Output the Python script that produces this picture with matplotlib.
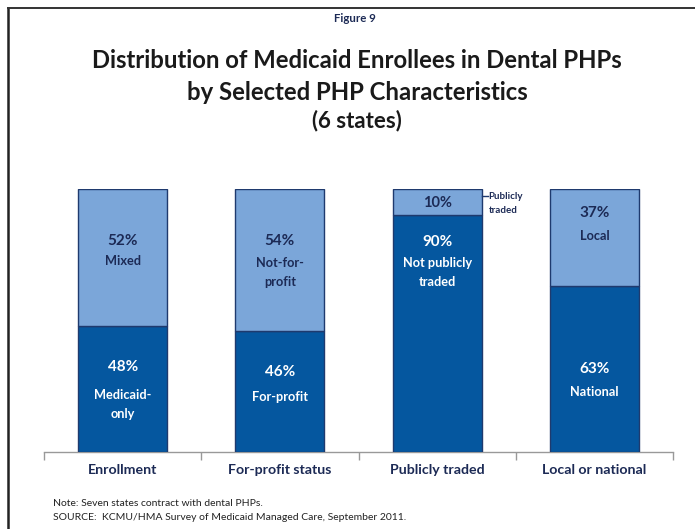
import matplotlib
matplotlib.use("Agg")
import matplotlib.pyplot as plt
from matplotlib.lines import Line2D

plt.rcParams['font.family'] = ['Lato', 'DejaVu Sans']

categories = ["Enrollment", "For-profit status", "Publicly traded", "Local or national"]
bottom_vals = [48, 46, 90, 63]
top_vals = [52, 54, 10, 37]
bottom_labels = ["Medicaid-\nonly", "For-profit", "Not publicly\ntraded", "National"]
top_labels = ["Mixed", "Not-for-\nprofit", "", "Local"]

dark = "#05579F"
light = "#7BA6D9"
edge = "#1F3A6E"
navy = "#1C2A55"

fig = plt.figure(figsize=(6.95, 5.29), dpi=100)
W, H = 695, 529

# frame (left and top edges only)
fig.add_artist(Line2D([8 / W, 8 / W], [0, 1 - 8 / H], transform=fig.transFigure, color="#222222", lw=1.8))
fig.add_artist(Line2D([8 / W, 1], [1 - 8 / H, 1 - 8 / H], transform=fig.transFigure, color="#333333", lw=1.4))

ax = fig.add_axes([44 / W, 1 - 452 / H, (673 - 44) / W, (452 - 189) / H])
x = list(range(len(categories)))
bw = 0.565
ax.bar(x, bottom_vals, width=bw, color=dark, edgecolor=edge, linewidth=1.0, zorder=3)
ax.bar(x, top_vals, width=bw, bottom=bottom_vals, color=light, edgecolor=edge, linewidth=1.0, zorder=3)
ax.set_xlim(-0.5, len(categories) - 0.5)
ax.set_ylim(0, 100)
for s in ["top", "right", "left"]:
    ax.spines[s].set_visible(False)
ax.spines["bottom"].set_color("#999999")
ax.spines["bottom"].set_linewidth(1.0)
ax.set_yticks([])
ax.set_xticks([i - 0.5 for i in range(len(categories) + 1)])
ax.set_xticklabels([])
ax.tick_params(axis="x", length=6, color="#999999", direction="out", width=1)
for i, c in enumerate(categories):
    ax.text(i, -(470 - 452) * 100 / 263, c, ha="center", va="center", fontsize=10.2,
            fontweight="bold", color=navy)

px = 100 / (452 - 189)  # data units per pixel

def ypix(p):
    return (452 - p) * px

# label layout (pixel rows of percent text and first label line)
bottom_pct_rows = [367, 372, 242, 369]
bottom_lbl_rows = [395, 397, 263, 392]
top_pct_rows = [241, 241, 203, 213]
top_lbl_rows = [261, 263, None, 236]

for i in range(len(categories)):
    ax.text(i, ypix(bottom_pct_rows[i]), f"{bottom_vals[i]}%", ha="center", va="center", fontsize=11,
            fontweight="bold", color="white", zorder=5)
    lines = bottom_labels[i].split("\n")
    for k, ln in enumerate(lines):
        ax.text(i, ypix(bottom_lbl_rows[i] + 18.5 * k), ln, ha="center", va="center", fontsize=9.2,
                fontweight="bold", color="white", zorder=5)
    ax.text(i, ypix(top_pct_rows[i]), f"{top_vals[i]}%", ha="center", va="center",
            fontsize=10.5 if i == 2 else 11, fontweight="bold", color=navy, zorder=5)
    if top_lbl_rows[i] is not None:
        lines = top_labels[i].split("\n")
        for k, ln in enumerate(lines):
            ax.text(i, ypix(top_lbl_rows[i] + 19 * k), ln, ha="center", va="center", fontsize=9.2,
                    fontweight="bold", color=navy, zorder=5)

# annotation for publicly traded
ya = ypix(196)
ax.plot([2 + bw / 2, 2 + bw / 2 + 0.04], [ya, ya], color=edge, lw=1, clip_on=False, zorder=5)
ax.text(2 + bw / 2 + 0.045, ya, "Publicly", ha="left", va="center", fontsize=7, fontweight="bold",
        color=navy)
ax.text(2 + bw / 2 + 0.045, ypix(210), "traded", ha="left", va="center", fontsize=7, fontweight="bold",
        color=navy)

# titles
cx = 357 / W
fig.text(355 / W, 1 - 19 / H, "Figure 9", ha="center", va="center", fontsize=8.3, fontweight="bold", color=navy)
fig.text(cx, 1 - 60 / H, "Distribution of Medicaid Enrollees in Dental PHPs", ha="center", va="center",
         fontsize=17.2, fontweight="bold", color="#1a1a1a")
fig.text(cx, 1 - 92 / H, "by Selected PHP Characteristics", ha="center", va="center",
         fontsize=17.2, fontweight="bold", color="#1a1a1a")
fig.text(cx, 1 - 121 / H, "(6 states)", ha="center", va="center",
         fontsize=16, fontweight="bold", color="#1a1a1a")

fig.text(53 / W, 1 - 503 / H, "Note: Seven states contract with dental PHPs.", ha="left", va="center",
         fontsize=7.5, color="#222222")
fig.text(53 / W, 1 - 518 / H, "SOURCE:  KCMU/HMA Survey of Medicaid Managed Care, September 2011.", ha="left",
         va="center", fontsize=7.5, color="#222222")

fig.savefig("out.png", dpi=100)
